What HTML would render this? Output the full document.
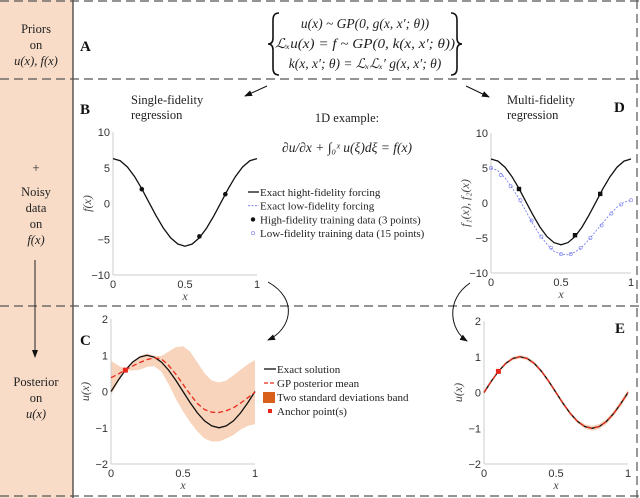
<!DOCTYPE html>
<html><head><meta charset="utf-8">
<style>
html,body{margin:0;padding:0;background:#fff;}
#fig{position:relative;width:640px;height:498px;overflow:hidden;font-family:"Liberation Serif",serif;}
svg text{font-family:"Liberation Serif",serif;}
.tk{font-family:"Liberation Sans",sans-serif;font-size:11px;fill:#333;}
</style></head>
<body>
<div id="fig">
<svg id="svg" width="640" height="498" viewBox="0 0 640 498" xmlns="http://www.w3.org/2000/svg">
<defs>
<marker id="ah" markerWidth="8" markerHeight="8" refX="7" refY="4" orient="auto" markerUnits="userSpaceOnUse"><path d="M0,1 L8,4 L0,7 z" fill="#111"/></marker>
</defs>
<rect x="0" y="0" width="73" height="498" fill="#f8dcc8"/>
<line x1="73" y1="0" x2="73" y2="498" stroke="#333" stroke-width="1.2"/>
<g stroke="#555" stroke-width="1.2" stroke-dasharray="9,5" fill="none">
<line x1="0" y1="1" x2="640" y2="1"/>
<line x1="0" y1="79" x2="640" y2="79"/>
<line x1="0" y1="306" x2="640" y2="306"/>
<line x1="0" y1="496" x2="640" y2="496"/>
<line x1="637" y1="0" x2="637" y2="498"/>
</g>
<g font-size="12.5" text-anchor="middle" fill="#222">
<text x="36" y="33">Priors</text><text x="36" y="49">on</text><text x="36" y="65" font-style="italic">u(x), f(x)</text>
<text x="36" y="172">+</text>
<text x="36" y="196">Noisy</text><text x="36" y="212">data</text><text x="36" y="228">on</text><text x="36" y="244" font-style="italic">f(x)</text>
<text x="36" y="386">Posterior</text><text x="36" y="402">on</text><text x="36" y="418" font-style="italic">u(x)</text>
</g>
<line x1="35" y1="260" x2="35" y2="357" stroke="#222" stroke-width="1" marker-end="url(#ah)"/>
<g font-weight="bold" font-size="15" fill="#111">
<text x="80" y="51">A</text><text x="80" y="114">B</text><text x="80" y="345">C</text><text x="614" y="112">D</text><text x="615" y="333">E</text>
</g>
<g font-size="13.5" font-style="italic" fill="#222" text-anchor="middle">
<text x="365" y="28">u(x) ~ GP(0, g(x, x′; θ))</text>
<text x="365" y="48" textLength="180" lengthAdjust="spacingAndGlyphs">ℒₓu(x) = f ~ GP(0, k(x, x′; θ))</text>
<text x="365" y="68">k(x, x′; θ) = ℒₓℒₓ′ g(x, x′; θ)</text>
</g>
<g stroke="#111" stroke-width="1.6" fill="none">
<path d="M279,13 Q273,13 273,20 L273,38 Q273,44 268,44 Q273,44 273,50 L273,68 Q273,75 279,75"/>
<path d="M451,13 Q457,13 457,20 L457,38 Q457,44 462,44 Q457,44 457,50 L457,68 Q457,75 451,75"/>
</g>
<g font-size="12.5" fill="#222">
<text x="131" y="104">Single-fidelity</text><text x="131" y="119">regression</text>
<text x="507" y="104">Multi-fidelity</text><text x="507" y="119">regression</text>
<text x="347" y="122" text-anchor="middle">1D example:</text>
<text x="347" y="152" text-anchor="middle" font-style="italic" font-size="13.5">∂u/∂x + ∫₀ˣ u(ξ)dξ = f(x)</text>
</g>
<g stroke="#111" stroke-width="1" fill="none">
<line x1="267" y1="86" x2="245" y2="96" marker-end="url(#ah)"/>
<line x1="466" y1="86" x2="489" y2="97" marker-end="url(#ah)"/>
<path d="M268,282 C300,300 290,330 268,340" marker-end="url(#ah)"/>
<path d="M470,283 C445,300 450,330 467,341" marker-end="url(#ah)"/>
</g>
<g id="plots"></g>
</svg>
</div>
<script>
// ---- data ----
var xGrid = [0,0.05,0.1,0.15,0.2,0.25,0.3,0.35,0.4,0.45,0.5,0.55,0.6,0.65,0.7,0.75,0.8,0.85,0.9,0.95,1];
var fHigh = [6.28,5.98,5.11,3.76,2.05,0.16,-1.73,-3.44,-4.80,-5.66,-5.97,-5.66,-4.80,-3.44,-1.73,0.16,2.05,3.76,5.11,5.98,6.28];
var fLow = [5.0,4.6,3.6,2.2,0.6,-1.2,-3.0,-4.6,-5.9,-6.9,-7.3,-7.4,-7.0,-6.3,-5.2,-4.0,-2.8,-1.6,-0.6,0.1,0.4];
var lowX = [0,0.07,0.14,0.21,0.29,0.36,0.43,0.5,0.57,0.64,0.71,0.79,0.86,0.93,1];
var lowY = [5.0,4.0,2.4,0.4,-2.5,-4.8,-6.4,-7.3,-7.3,-6.4,-5.0,-3.2,-1.5,-0.2,0.4];
var hiX = [0.2,0.6,0.78];
var hiY = [2.0,-4.6,1.3];
var uExact = [0,0.31,0.59,0.81,0.95,1,0.95,0.81,0.59,0.31,0,-0.31,-0.59,-0.81,-0.95,-1,-0.95,-0.81,-0.59,-0.31,0];
var cMean = [0.38,0.48,0.6,0.7,0.8,0.88,0.93,0.9,0.72,0.48,0.2,-0.08,-0.33,-0.5,-0.57,-0.58,-0.53,-0.45,-0.32,-0.17,-0.02];
var cUpper = [0.85,0.72,0.62,0.8,0.98,1.05,0.98,0.98,1.1,1.22,1.25,1.1,0.8,0.5,0.3,0.25,0.3,0.45,0.6,0.75,0.87];
var cLower = [-0.1,0.25,0.58,0.58,0.6,0.68,0.7,0.55,0.2,-0.2,-0.55,-0.85,-1.1,-1.3,-1.38,-1.38,-1.3,-1.2,-1.05,-0.95,-0.9];
var eBand = [0.06,0.05,0.03,0.04,0.05,0.05,0.05,0.05,0.05,0.05,0.05,0.05,0.05,0.05,0.06,0.07,0.07,0.07,0.07,0.08,0.08];
var anchorX = [0.1];
var anchorY = [0.59];
var fTicks = [-10,-5,0,5,10];
var uTicks = [-2,-1,0,1,2];
var xTicks = [0,0.5,1];
var xTickLabels = ['0','0.5','1'];

var NS='http://www.w3.org/2000/svg';
var root=document.getElementById('plots');
function el(tag,attrs,parent){var e=document.createElementNS(NS,tag);for(var k in attrs)e.setAttribute(k,attrs[k]);(parent||root).appendChild(e);return e;}
function scale(d0,d1,r0,r1){return function(v){return r0+(v-d0)/(d1-d0)*(r1-r0);};}
function axes(g,sx,sy,yt,ylab,name){
  var ax=el('g',{},g);
  
  
  el('line',{x1:sx(0),y1:sy(yt[0]),x2:sx(1),y2:sy(yt[0]),stroke:'#ccc','stroke-width':1},ax);
  el('line',{x1:sx(0),y1:sy(yt[0]),x2:sx(0),y2:sy(yt[yt.length-1]),stroke:'#ccc','stroke-width':1},ax);
  yt.forEach(function(v){var t=el('text',{x:sx(0)-3,y:sy(v)+4,'text-anchor':'end','class':'tk'},ax);t.textContent=String(v).replace('-','−');
    
    });
  xTicks.forEach(function(v,i){var t=el('text',{x:sx(v),y:sy(yt[0])+13,'text-anchor':'middle','class':'tk'},ax);t.textContent=xTickLabels[i];
    
    });
  var xl=el('text',{x:sx(0.5),y:sy(yt[0])+25,'text-anchor':'middle','font-style':'italic','font-size':12,fill:'#444'},ax);xl.textContent='x';
  
  
  var cy=(sy(yt[0])+sy(yt[yt.length-1]))/2, lx=sx(0)-22;
  var yl=el('text',{x:lx,y:cy,'text-anchor':'middle','font-style':'italic','font-size':12,fill:'#444',transform:'rotate(-90 '+lx+' '+cy+')'},ax);yl.textContent=ylab;
  
  
}
function path(xs,ys,sx,sy){return xs.map(function(x,i){return (i?'L':'M')+sx(x).toFixed(1)+','+sy(ys[i]).toFixed(1);}).join(' ');}
function line(g,xs,ys,sx,sy,attrs,name){var a={d:path(xs,ys,sx,sy),fill:'none'};for(var k in attrs)a[k]=attrs[k];var p=el('path',a,g);
  
  return p;}
function band(g,xs,lo,hi,sx,sy,name){var d=path(xs,hi,sx,sy)+' '+xs.slice().reverse().map(function(x,i){return 'L'+sx(x).toFixed(1)+','+sy(lo[xs.length-1-i]).toFixed(1);}).join(' ')+' Z';
  var p=el('path',{d:d,fill:'#f4c6a4','fill-opacity':0.75,stroke:'none'},g);
  
  }

// Panel B
(function(){
  var g=el('g',{});
  var sx=scale(0,1,113,257),sy=scale(-10,10,275,132);
  axes(g,sx,sy,fTicks,'f(x)','panel-b');
  line(g,xGrid,fHigh,sx,sy,{stroke:'#111','stroke-width':1.3},'high-fidelity-curve');
  hiX.forEach(function(x,i){var c=el('circle',{cx:sx(x),cy:sy(hiY[i]),r:2.3,fill:'#111'},g);
    
    });
})();
// Panel D
(function(){
  var g=el('g',{});
  var sx=scale(0,1,491,631),sy=scale(-10,10,273,133);
  axes(g,sx,sy,fTicks,'f₁(x), f₂(x)','panel-d');
  line(g,xGrid,fLow,sx,sy,{stroke:'#6b73f0','stroke-width':0.8,'stroke-dasharray':'2,1.5'},'low-fidelity-curve');
  lowX.forEach(function(x,i){var c=el('circle',{cx:sx(x),cy:sy(lowY[i]),r:1.6,fill:'none',stroke:'#8a90f0','stroke-width':0.7},g);
    
    });
  line(g,xGrid,fHigh,sx,sy,{stroke:'#111','stroke-width':1.3},'high-fidelity-curve');
  hiX.forEach(function(x,i){var c=el('rect',{x:sx(x)-2.2,y:sy(hiY[i])-2.2,width:4.4,height:4.4,fill:'#111'},g);
    
    });
})();
// Panel C
(function(){
  var g=el('g',{});
  var sx=scale(0,1,111,255),sy=scale(-2,2,464,319);
  band(g,xGrid,cLower,cUpper,sx,sy,'uncertainty-band');
  axes(g,sx,sy,uTicks,'u(x)','panel-c');
  line(g,xGrid,uExact,sx,sy,{stroke:'#111','stroke-width':1.3},'exact-solution-curve');
  line(g,xGrid,cMean,sx,sy,{stroke:'#e8281c','stroke-width':1.3,'stroke-dasharray':'5,3'},'posterior-mean-curve');
  anchorX.forEach(function(x,i){var r=el('rect',{x:sx(x)-2.5,y:sy(anchorY[i])-2.5,width:5,height:5,fill:'#e8281c'},g);
    
    });
})();
// Panel E
(function(){
  var g=el('g',{});
  var sx=scale(0,1,484,628),sy=scale(-2,2,464,321);
  var lo=uExact.map(function(v,i){return v-eBand[i];}),hi=uExact.map(function(v,i){return v+eBand[i];});
  band(g,xGrid,lo,hi,sx,sy,'uncertainty-band');
  axes(g,sx,sy,uTicks,'u(x)','panel-e');
  line(g,xGrid,uExact,sx,sy,{stroke:'#111','stroke-width':1.3},'exact-solution-curve');
  line(g,xGrid,uExact,sx,sy,{stroke:'#e8281c','stroke-width':1.2,'stroke-dasharray':'5,3'},'posterior-mean-curve');
  anchorX.forEach(function(x,i){var r=el('rect',{x:sx(x)-2.5,y:sy(anchorY[i])-2.5,width:5,height:5,fill:'#e8281c'},g);
    
    });
})();
// Legends
(function(){
  var g=el('g',{'font-size':11,fill:'#222'});
  
  
  var labels=['Exact hight-fidelity forcing','Exact low-fidelity forcing','High-fidelity training data (3 points)','Low-fidelity training data (15 points)'];
  labels.forEach(function(t,i){var y=192+i*13.7;
    if(i==0)el('line',{x1:248,y1:y,x2:259,y2:y,stroke:'#111','stroke-width':1.3},g);
    if(i==1)el('line',{x1:248,y1:y,x2:259,y2:y,stroke:'#6b73f0','stroke-width':0.8,'stroke-dasharray':'2,1.5'},g);
    if(i==2)el('circle',{cx:253,cy:y,r:2.2,fill:'#111'},g);
    if(i==3)el('circle',{cx:253,cy:y,r:1.6,fill:'none',stroke:'#8a90f0','stroke-width':0.7},g);
    var tx=el('text',{x:260,y:y+4},g);tx.textContent=t;
    
    });
  var g2=el('g',{'font-size':11,fill:'#222'});
  
  
  var l2=['Exact solution','GP posterior mean','Two standard deviations band','Anchor point(s)'];
  l2.forEach(function(t,i){var y=369+i*14;
    if(i==0)el('line',{x1:264,y1:y,x2:276,y2:y,stroke:'#111','stroke-width':1.3},g2);
    if(i==1)el('line',{x1:264,y1:y,x2:276,y2:y,stroke:'#e8281c','stroke-width':1.3,'stroke-dasharray':'4,2'},g2);
    if(i==2)el('rect',{x:263,y:y-5,width:12,height:11,fill:'#d9601a'},g2);
    if(i==3)el('rect',{x:268,y:y-2,width:4,height:4,fill:'#e8281c'},g2);
    var tx=el('text',{x:277,y:y+4},g2);tx.textContent=t;
    
    });
})();
</script>
</body></html>
